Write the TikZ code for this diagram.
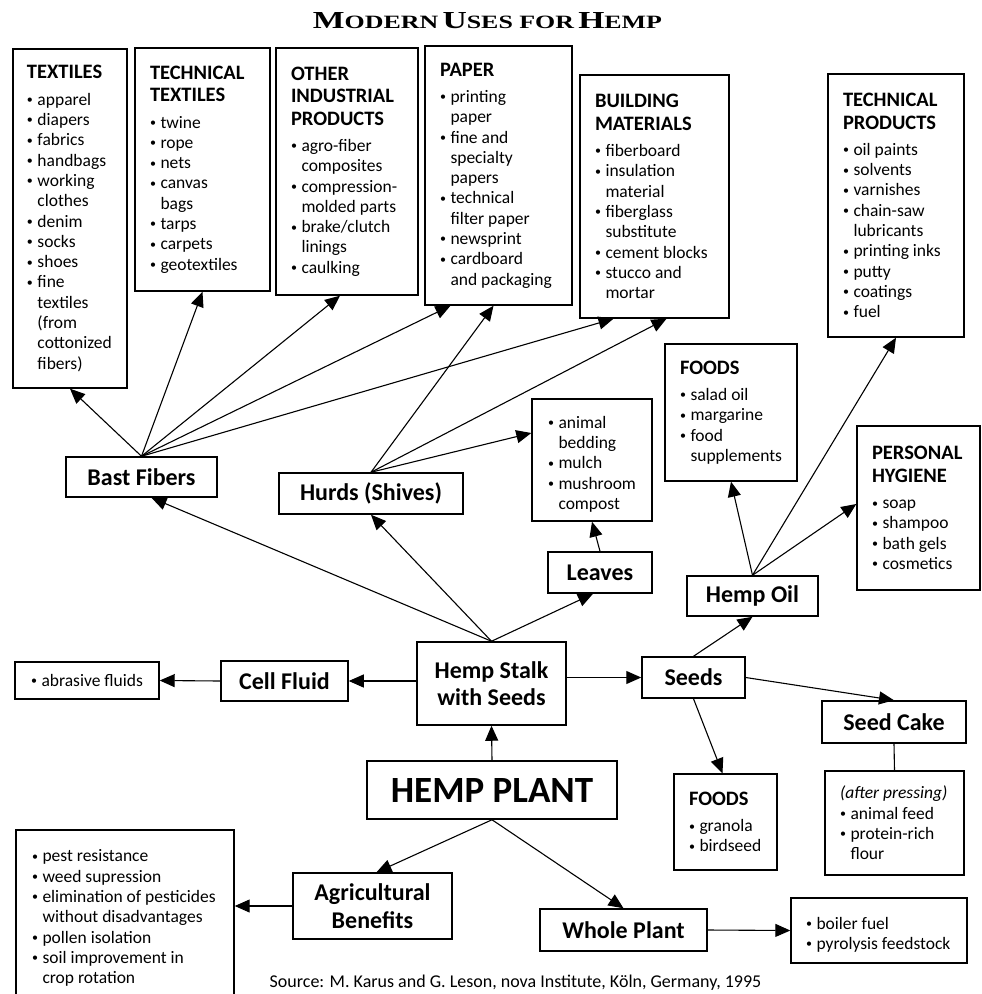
\documentclass[tikz,border=0pt]{standalone}
\usepackage{fontspec}
\setmainfont{Carlito}
\newfontfamily\titlefont{Liberation Serif}
\usetikzlibrary{arrows.meta}
\hyphenpenalty=10000
\exhyphenpenalty=10000

\newcommand{\dotb}{\makebox[10.5pt][l]{\raisebox{1.6pt}{\fontsize{12}{12}\selectfont\textbullet}}}
\newcommand{\bi}[1]{\par\spaceskip=0pt\xspaceskip=0pt\hangindent=10.5pt\hangafter=1\noindent\dotb#1\par}
\newcommand{\hd}[1]{{\spaceskip=0pt\bfseries\fontsize{20.5}{22.5}\selectfont #1\par}\vspace{6pt}}
\newcommand{\tsc}[2]{{\fontsize{20}{20}\selectfont #1}{\fontsize{15.4}{15.4}\selectfont #2}}

\tikzset{
  listbox/.style={draw, line width=1.4pt, align=left, inner xsep=15pt, inner ysep=0pt,
    font=\fontsize{17.5}{20.3}\selectfont},
  lab/.style={draw, line width=1.5pt, align=center, inner sep=0pt,
    font=\bfseries\fontsize{24}{27}\selectfont},
  arr/.style={line width=1.1pt, -{Triangle[length=15pt,width=13pt]}},
  plainline/.style={line width=1.1pt}
}

\begin{document}
\begin{tikzpicture}[x=1pt,y=-1pt]
\useasboundingbox (0,0) rectangle (982,994);

% title
\node (title) at (487.5,21) {\resizebox{349pt}{16pt}{\titlefont\bfseries \tsc{M}{ODERN} \tsc{U}{SES FOR} \tsc{H}{EMP}}};

% list boxes (top row)
\node[listbox, text width=86pt, inner xsep=14pt, minimum height=339pt] (textiles) at (70,218.5)
 {\hd{TEXTILES}\bi{apparel}\bi{diapers}\bi{fabrics}\bi{handbags}\bi{working\newline clothes}\bi{denim}\bi{socks}\bi{shoes}\bi{fine\newline textiles\newline (from\newline cottonized\newline fibers)}};
\node[listbox, text width=105pt, minimum height=243pt] (techtex) at (202.5,169.5)
 {\hd{TECHNICAL\newline TEXTILES}\bi{twine}\bi{rope}\bi{nets}\bi{canvas\newline bags}\bi{tarps}\bi{carpets}\bi{geotextiles}};
\node[listbox, text width=112pt, minimum height=247pt] (other) at (347,171.5)
 {\hd{OTHER\newline INDUSTRIAL\newline PRODUCTS}\bi{agro-fiber\newline composites}\bi{compression-\newline molded parts}\bi{brake/clutch\newline linings}\bi{caulking}};
\node[listbox, text width=117pt, minimum height=259pt] (paper) at (498.5,175.5)
 {\hd{PAPER}\bi{printing\newline paper}\bi{fine and\newline specialty\newline papers}\bi{technical\newline filter paper}\bi{newsprint}\bi{cardboard\newline \mbox{and packaging}}};
\node[listbox, text width=119pt, minimum height=243pt] (building) at (654.5,196.5)
 {\hd{BUILDING\newline MATERIALS}\bi{fiberboard}\bi{insulation\newline material}\bi{fiberglass\newline substitute}\bi{\mbox{cement blocks}}\bi{stucco and\newline mortar}};
\node[listbox, text width=106pt, minimum height=263pt] (techprod) at (896,205.5)
 {\hd{TECHNICAL\newline PRODUCTS}\bi{oil paints}\bi{solvents}\bi{varnishes}\bi{chain-saw\newline lubricants}\bi{\mbox{printing inks}}\bi{putty}\bi{coatings}\bi{fuel}};

% middle list boxes
\node[listbox, text width=102pt, minimum height=137pt] (foods1) at (731,412.5)
 {\hd{FOODS}\bi{salad oil}\bi{margarine}\bi{food\newline supplements}};
\node[listbox, text width=88pt, inner xsep=16pt, minimum height=122pt] (bedding) at (592,460)
 {\bi{animal\newline bedding}\bi{mulch}\bi{mushroom\newline compost}};
\node[listbox, text width=93pt, minimum height=164pt] (hygiene) at (918.5,508)
 {\hd{PERSONAL\newline HYGIENE}\bi{soap}\bi{shampoo}\bi{bath gels}\bi{cosmetics}};
\node[draw, line width=1.4pt, minimum width=144pt, minimum height=37pt, inner sep=0pt,
   font=\fontsize{17.5}{20.3}\selectfont] (abrasive) at (87,680.5) {\dotb abrasive fluids};

% lower list boxes
\node[listbox, text width=73pt, minimum height=96pt] (foods2) at (725.5,822)
 {\hd{FOODS}\bi{granola}\bi{birdseed}};
\node[listbox, text width=109pt, minimum height=104pt] (pressing) at (894.5,823)
 {\spaceskip=0pt\noindent\mbox{\itshape (after pressing)}\par\bi{animal feed}\bi{protein-rich\newline flour}};
\node[listbox, text width=186pt, inner xsep=16pt, minimum height=168pt] (pest) at (125,914)
 {\bi{pest resistance}\bi{weed supression}\bi{\mbox{elimination of pesticides}\newline without disadvantages}\bi{pollen isolation}\bi{soil improvement in\newline crop rotation}};
\node[listbox, text width=146pt, inner xsep=15pt, minimum height=65pt] (boiler) at (879,930.5)
 {\bi{boiler fuel}\bi{\mbox{pyrolysis feedstock}}};

% labelled boxes
\node[lab, minimum width=151pt, minimum height=40pt] (bast) at (141.5,477) {Bast Fibers};
\node[lab, minimum width=184pt, minimum height=41pt] (hurds) at (371,493.5) {Hurds (Shives)};
\node[lab, minimum width=104pt, minimum height=41pt] (leaves) at (600,572.5) {Leaves};
\node[lab, minimum width=131pt, minimum height=40pt] (hempoil) at (752.5,596) {Hemp Oil};
\node[lab, minimum width=149pt, minimum height=83pt] (stalk) at (491.5,683.5) {Hemp Stalk\\with Seeds};
\node[lab, minimum width=127pt, minimum height=40pt] (cell) at (284.5,681) {Cell Fluid};
\node[lab, minimum width=103pt, minimum height=41pt] (seeds) at (693.5,677.5) {Seeds};
\node[lab, minimum width=144pt, minimum height=42pt] (seedcake) at (894,722) {Seed Cake};
\node[lab, minimum width=250pt, minimum height=58pt, font=\bfseries\fontsize{37}{40}\selectfont] (plant) at (492,790) {HEMP PLANT};
\node[lab, minimum width=159pt, minimum height=66pt, font=\bfseries\fontsize{24}{28}\selectfont] (agri) at (372.5,906) {Agricultural\\Benefits};
\node[lab, minimum width=167pt, minimum height=42pt] (whole) at (623.5,930) {Whole Plant};

% source
\node[font=\fontsize{18}{20}\selectfont, anchor=base] (source) at (515.5,987) {Source: M. Karus and G. Leson, nova Institute, Köln, Germany, 1995};

% connectors
\draw[arr] (bast.north) -- (textiles.south);
\draw[arr] (bast.north) -- (techtex.south);
\draw[arr] (bast.north) -- ([xshift=-7pt]other.south);
\draw[arr] (bast.north) -- ([xshift=-48pt]paper.south);
\draw[arr] (bast.north) -- ([xshift=-41pt]building.south);
\draw[arr] (hurds.north) -- ([xshift=-5pt]paper.south);
\draw[arr] (hurds.north) -- ([xshift=12pt]building.south);
\draw[arr] (hurds.north) -- ([yshift=27pt]bedding.west);
\draw[arr] (leaves.north) -- (bedding.south);
\draw[arr] (stalk.north) -- ([xshift=10pt]bast.south);
\draw[arr] (stalk.north) -- (hurds.south);
\draw[arr] (stalk.north) -- ([xshift=-7pt]leaves.south);
\draw[arr] (stalk.west |- cell.east) -- (cell.east);
\draw[arr] (cell.west) -- (abrasive.east);
\draw[arr] (stalk.east |- seeds.west) -- (seeds.west);
\draw[arr] (seeds.north) -- (hempoil.south);
\draw[arr] (seeds.east) -- (seedcake.north);
\draw[arr] (seeds.south) -- ([xshift=-3pt]foods2.north);
\draw[plainline] (seedcake.south) -- (pressing.north);
\draw[arr] (hempoil.north) -- (foods1.south);
\draw[arr] (hempoil.north) -- (techprod.south);
\draw[arr] (hempoil.north) -- ([yshift=4pt]hygiene.west);
\draw[arr] (plant.north) -- (stalk.south);
\draw[arr] (plant.south) -- ([xshift=4pt]agri.north);
\draw[arr] (plant.south) -- (whole.north);
\draw[arr] (agri.west) -- (agri.west -| pest.east);
\draw[arr] (whole.east) -- (boiler.west);
\end{tikzpicture}
\end{document}
